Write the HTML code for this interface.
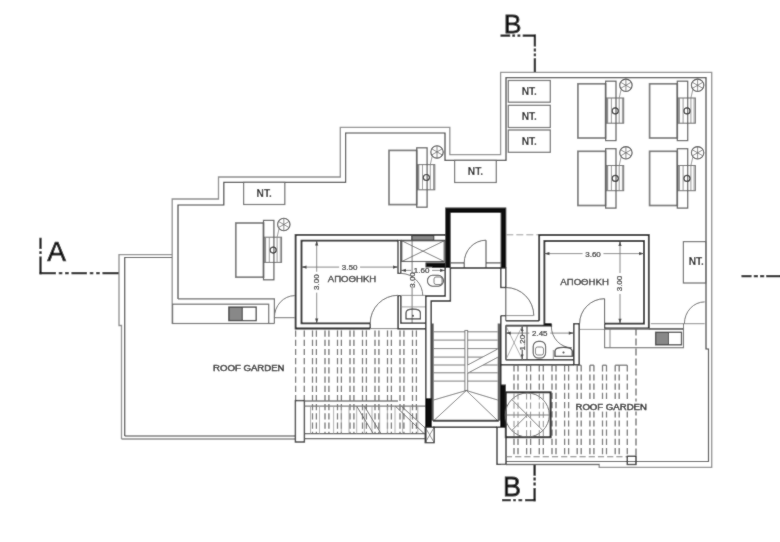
<!DOCTYPE html>
<html><head><meta charset="utf-8"><style>
html,body{margin:0;padding:0;background:#fff;}
svg{display:block;font-family:"Liberation Sans",sans-serif;}
</style></head><body>
<svg width="780" height="542" viewBox="0 0 780 542">
<defs><filter id="bl" x="0" y="0" width="100%" height="100%"><feConvolveMatrix order="3" kernelMatrix="1 2 1 2 20 2 1 2 1" divisor="32" edgeMode="duplicate"/></filter></defs>
<rect width="780" height="542" fill="#fff"/>
<g filter="url(#bl)">
<rect width="780" height="542" fill="#fff"/>
<path d="M40.5,237.7 V249 M40.5,251.2 V254 M40.5,256.5 V274.2" stroke="#111" stroke-width="2.3" fill="none"/>
<path d="M39.5,273.2 H56 M58.8,273.2 H62.3 M65.1,273.2 H68.7 M71.5,273.2 H87 M89.8,273.2 H93.3 M96.2,273.2 H99.7 M102.5,273.2 H119" stroke="#111" stroke-width="2.3" fill="none"/>
<text x="56.6" y="261" font-size="28" text-anchor="middle" fill="#111" stroke="#111" stroke-width="0.7">A</text>
<path d="M741.5,276.2 H751.5 M753.8,276.2 H758 M760,276.2 H764.2 M766.2,276.2 H781" stroke="#111" stroke-width="2.3" fill="none"/>
<text x="512.5" y="33.4" font-size="26.6" text-anchor="middle" fill="#111" stroke="#111" stroke-width="0.8">B</text>
<path d="M500.5,35.7 H510.2 M512.3,35.7 H515.1 M517.5,35.7 H520.3 M522.7,35.7 H535.9" stroke="#111" stroke-width="2.3" fill="none"/>
<path d="M534.9,34.7 V46.5 M534.9,48.6 V51.4 M534.9,53.5 V56.2 M534.9,58.3 V72.9" stroke="#111" stroke-width="2.3" fill="none"/>
<text x="512" y="496.1" font-size="27" text-anchor="middle" fill="#111" stroke="#111" stroke-width="0.8">B</text>
<path d="M534.6,464.2 V475.8 M534.6,477.6 V480.4 M534.6,482.6 V485.4 M534.6,488 V501.2" stroke="#111" stroke-width="2.3" fill="none"/>
<path d="M502,500.2 H510.8 M513.2,500.2 H515.9 M518.5,500.2 H522.2 M525,500.2 H535.6" stroke="#111" stroke-width="2.3" fill="none"/>
<polyline points="121.5,439 121.5,325.5 119,325.5 119,254.6 172.2,254.6" fill="none" stroke="#8a8a8a" stroke-width="1.3" />
<polyline points="124.7,436 124.7,257.5 172.2,257.5" fill="none" stroke="#3a3a3a" stroke-width="1.2" />
<line x1="121.5" y1="439" x2="295.8" y2="439" stroke="#8a8a8a" stroke-width="1.3" />
<line x1="124.7" y1="436" x2="295.8" y2="436" stroke="#3a3a3a" stroke-width="1.2" />
<polyline points="172.2,324 172.2,199 218.5,199 218.5,177 340.3,177 340.3,127.3 449.8,127.3 449.8,154.6 500.6,154.6 500.6,72.4 711.7,72.4 711.7,467.4 599.2,467.4 599.2,464.5 506,464.5" fill="none" stroke="#8a8a8a" stroke-width="1.3" />
<polyline points="178,299 178,205 223.8,205 223.8,182.4 345.6,182.4 345.6,133 445,133 445,160.4 506,160.4 506,77.7 706,77.7 706,349 708.5,349 708.5,461.5 506,461.5" fill="none" stroke="#3a3a3a" stroke-width="1.2" />
<polyline points="178,298.8 274.4,298.8 274.4,323.5" fill="none" stroke="#666" stroke-width="1.2" />
<rect x="172.6" y="304.2" width="96.1" height="19.3" fill="none" stroke="#666" stroke-width="1.2" />
<line x1="268.7" y1="323.5" x2="274.4" y2="323.5" stroke="#666" stroke-width="1.2" />
<rect x="228.8" y="307.1" width="13.5" height="13.5" fill="#888"/>
<rect x="228.8" y="307.1" width="27.4" height="13.5" fill="none" stroke="#3a3a3a" stroke-width="1.3" />
<line x1="242.3" y1="307.1" x2="242.3" y2="320.6" stroke="#3a3a3a" stroke-width="1" />
<line x1="274.4" y1="317.7" x2="294.6" y2="317.7" stroke="#666" stroke-width="1" />
<path d="M274.4,317.7 A20.5,22 0 0 1 294.6,295.6" fill="none" stroke="#666" stroke-width="1"/>
<rect x="508.3" y="80.5" width="42.0" height="21.7" fill="none" stroke="#666" stroke-width="1.2" />
<text x="529.3" y="95.14999999999999" font-size="10.2" text-anchor="middle" fill="#111" font-weight="bold">NT.</text>
<rect x="508.3" y="105.3" width="42.0" height="22.2" fill="none" stroke="#666" stroke-width="1.2" />
<text x="529.3" y="120.2" font-size="10.2" text-anchor="middle" fill="#111" font-weight="bold">NT.</text>
<rect x="508.3" y="130" width="42.0" height="22.3" fill="none" stroke="#666" stroke-width="1.2" />
<text x="529.3" y="144.95000000000002" font-size="10.2" text-anchor="middle" fill="#111" font-weight="bold">NT.</text>
<rect x="454.6" y="160.4" width="41.7" height="22.1" fill="none" stroke="#666" stroke-width="1.2" />
<text x="475.45000000000005" y="175.25" font-size="10.2" text-anchor="middle" fill="#111" font-weight="bold">NT.</text>
<rect x="243.6" y="182.4" width="41.2" height="22.1" fill="none" stroke="#666" stroke-width="1.2" />
<text x="264.2" y="197.25" font-size="10.2" text-anchor="middle" fill="#111" font-weight="bold">NT.</text>
<rect x="683.4" y="241.6" width="22.5" height="41.4" fill="none" stroke="#666" stroke-width="1.2" />
<text x="696.3" y="265" font-size="10.2" text-anchor="middle" fill="#111" font-weight="bold">NT.</text>
<rect x="577.9" y="83.8" width="27.7" height="54.2" fill="none" stroke="#777" stroke-width="1.7" />
<rect x="606.3000000000001" y="98.0" width="17.4" height="25.2" fill="#fff" stroke="#666" stroke-width="1" />
<line x1="607.4" y1="98.0" x2="607.4" y2="123.2" stroke="#888" stroke-width="1.6" />
<line x1="611.4" y1="98.0" x2="611.4" y2="123.2" stroke="#777" stroke-width="0.8" />
<line x1="619.2" y1="98.0" x2="619.2" y2="123.2" stroke="#777" stroke-width="0.8" />
<line x1="622.4" y1="98.0" x2="622.4" y2="123.2" stroke="#777" stroke-width="0.8" />
<rect x="605.6" y="81.2" width="10.4" height="59.4" fill="none" stroke="#555" stroke-width="1.2" />
<circle cx="615.3000000000001" cy="110.9" r="3" fill="none" stroke="#222" stroke-width="1.1"/>
<circle cx="625.9" cy="85.3" r="6.2" fill="#fff" stroke="#444" stroke-width="1.1"/>
<line x1="631.1" y1="88.3" x2="620.7" y2="82.3" stroke="#666" stroke-width="0.8" />
<line x1="625.9" y1="91.3" x2="625.9" y2="79.3" stroke="#666" stroke-width="0.8" />
<line x1="620.7" y1="88.3" x2="631.1" y2="82.3" stroke="#666" stroke-width="0.8" />
<line x1="621.1" y1="89.6" x2="619.2" y2="98.0" stroke="#777" stroke-width="0.8" />
<rect x="649.5999999999999" y="83.8" width="27.7" height="54.2" fill="none" stroke="#777" stroke-width="1.7" />
<rect x="678.0" y="98.0" width="17.4" height="25.2" fill="#fff" stroke="#666" stroke-width="1" />
<line x1="679.0999999999999" y1="98.0" x2="679.0999999999999" y2="123.2" stroke="#888" stroke-width="1.6" />
<line x1="683.0999999999999" y1="98.0" x2="683.0999999999999" y2="123.2" stroke="#777" stroke-width="0.8" />
<line x1="690.9" y1="98.0" x2="690.9" y2="123.2" stroke="#777" stroke-width="0.8" />
<line x1="694.0999999999999" y1="98.0" x2="694.0999999999999" y2="123.2" stroke="#777" stroke-width="0.8" />
<rect x="677.3" y="81.2" width="10.4" height="59.4" fill="none" stroke="#555" stroke-width="1.2" />
<circle cx="687.0" cy="110.9" r="3" fill="none" stroke="#222" stroke-width="1.1"/>
<circle cx="697.5999999999999" cy="85.3" r="6.2" fill="#fff" stroke="#444" stroke-width="1.1"/>
<line x1="702.8" y1="88.3" x2="692.4" y2="82.3" stroke="#666" stroke-width="0.8" />
<line x1="697.6" y1="91.3" x2="697.6" y2="79.3" stroke="#666" stroke-width="0.8" />
<line x1="692.4" y1="88.3" x2="702.8" y2="82.3" stroke="#666" stroke-width="0.8" />
<line x1="692.8" y1="89.6" x2="690.9" y2="98.0" stroke="#777" stroke-width="0.8" />
<rect x="577.9" y="151.29999999999998" width="27.7" height="54.2" fill="none" stroke="#777" stroke-width="1.7" />
<rect x="606.3000000000001" y="165.5" width="17.4" height="25.2" fill="#fff" stroke="#666" stroke-width="1" />
<line x1="607.4" y1="165.5" x2="607.4" y2="190.7" stroke="#888" stroke-width="1.6" />
<line x1="611.4" y1="165.5" x2="611.4" y2="190.7" stroke="#777" stroke-width="0.8" />
<line x1="619.2" y1="165.5" x2="619.2" y2="190.7" stroke="#777" stroke-width="0.8" />
<line x1="622.4" y1="165.5" x2="622.4" y2="190.7" stroke="#777" stroke-width="0.8" />
<rect x="605.6" y="148.7" width="10.4" height="59.4" fill="none" stroke="#555" stroke-width="1.2" />
<circle cx="615.3000000000001" cy="178.39999999999998" r="3" fill="none" stroke="#222" stroke-width="1.1"/>
<circle cx="625.9" cy="152.79999999999998" r="6.2" fill="#fff" stroke="#444" stroke-width="1.1"/>
<line x1="631.1" y1="155.8" x2="620.7" y2="149.8" stroke="#666" stroke-width="0.8" />
<line x1="625.9" y1="158.8" x2="625.9" y2="146.8" stroke="#666" stroke-width="0.8" />
<line x1="620.7" y1="155.8" x2="631.1" y2="149.8" stroke="#666" stroke-width="0.8" />
<line x1="621.1" y1="157.1" x2="619.2" y2="165.5" stroke="#777" stroke-width="0.8" />
<rect x="649.5999999999999" y="151.29999999999998" width="27.7" height="54.2" fill="none" stroke="#777" stroke-width="1.7" />
<rect x="678.0" y="165.5" width="17.4" height="25.2" fill="#fff" stroke="#666" stroke-width="1" />
<line x1="679.0999999999999" y1="165.5" x2="679.0999999999999" y2="190.7" stroke="#888" stroke-width="1.6" />
<line x1="683.0999999999999" y1="165.5" x2="683.0999999999999" y2="190.7" stroke="#777" stroke-width="0.8" />
<line x1="690.9" y1="165.5" x2="690.9" y2="190.7" stroke="#777" stroke-width="0.8" />
<line x1="694.0999999999999" y1="165.5" x2="694.0999999999999" y2="190.7" stroke="#777" stroke-width="0.8" />
<rect x="677.3" y="148.7" width="10.4" height="59.4" fill="none" stroke="#555" stroke-width="1.2" />
<circle cx="687.0" cy="178.39999999999998" r="3" fill="none" stroke="#222" stroke-width="1.1"/>
<circle cx="697.5999999999999" cy="152.79999999999998" r="6.2" fill="#fff" stroke="#444" stroke-width="1.1"/>
<line x1="702.8" y1="155.8" x2="692.4" y2="149.8" stroke="#666" stroke-width="0.8" />
<line x1="697.6" y1="158.8" x2="697.6" y2="146.8" stroke="#666" stroke-width="0.8" />
<line x1="692.4" y1="155.8" x2="702.8" y2="149.8" stroke="#666" stroke-width="0.8" />
<line x1="692.8" y1="157.1" x2="690.9" y2="165.5" stroke="#777" stroke-width="0.8" />
<rect x="389.0" y="150.4" width="27.7" height="54.2" fill="none" stroke="#777" stroke-width="1.7" />
<rect x="417.4" y="164.60000000000002" width="17.4" height="25.2" fill="#fff" stroke="#666" stroke-width="1" />
<line x1="418.5" y1="164.60000000000002" x2="418.5" y2="189.8" stroke="#888" stroke-width="1.6" />
<line x1="422.5" y1="164.60000000000002" x2="422.5" y2="189.8" stroke="#777" stroke-width="0.8" />
<line x1="430.3" y1="164.60000000000002" x2="430.3" y2="189.8" stroke="#777" stroke-width="0.8" />
<line x1="433.5" y1="164.60000000000002" x2="433.5" y2="189.8" stroke="#777" stroke-width="0.8" />
<rect x="416.7" y="147.8" width="10.4" height="59.4" fill="none" stroke="#555" stroke-width="1.2" />
<circle cx="426.4" cy="177.5" r="3" fill="none" stroke="#222" stroke-width="1.1"/>
<circle cx="437.0" cy="151.9" r="6.2" fill="#fff" stroke="#444" stroke-width="1.1"/>
<line x1="442.2" y1="154.9" x2="431.8" y2="148.9" stroke="#666" stroke-width="0.8" />
<line x1="437.0" y1="157.9" x2="437.0" y2="145.9" stroke="#666" stroke-width="0.8" />
<line x1="431.8" y1="154.9" x2="442.2" y2="148.9" stroke="#666" stroke-width="0.8" />
<line x1="432.2" y1="156.20000000000002" x2="430.3" y2="164.60000000000002" stroke="#777" stroke-width="0.8" />
<rect x="235.8" y="223.0" width="27.7" height="54.2" fill="none" stroke="#777" stroke-width="1.7" />
<rect x="264.2" y="237.20000000000002" width="17.4" height="25.2" fill="#fff" stroke="#666" stroke-width="1" />
<line x1="265.3" y1="237.20000000000002" x2="265.3" y2="262.4" stroke="#888" stroke-width="1.6" />
<line x1="269.3" y1="237.20000000000002" x2="269.3" y2="262.4" stroke="#777" stroke-width="0.8" />
<line x1="277.1" y1="237.20000000000002" x2="277.1" y2="262.4" stroke="#777" stroke-width="0.8" />
<line x1="280.3" y1="237.20000000000002" x2="280.3" y2="262.4" stroke="#777" stroke-width="0.8" />
<rect x="263.5" y="220.4" width="10.4" height="59.4" fill="none" stroke="#555" stroke-width="1.2" />
<circle cx="273.2" cy="250.1" r="3" fill="none" stroke="#222" stroke-width="1.1"/>
<circle cx="283.8" cy="224.5" r="6.2" fill="#fff" stroke="#444" stroke-width="1.1"/>
<line x1="289.0" y1="227.5" x2="278.6" y2="221.5" stroke="#666" stroke-width="0.8" />
<line x1="283.8" y1="230.5" x2="283.8" y2="218.5" stroke="#666" stroke-width="0.8" />
<line x1="278.6" y1="227.5" x2="289.0" y2="221.5" stroke="#666" stroke-width="0.8" />
<line x1="279.0" y1="228.8" x2="277.1" y2="237.20000000000002" stroke="#777" stroke-width="0.8" />
<polyline points="370.2,328.5 295.6,328.5 295.6,234.8 445.2,234.8" fill="none" stroke="#151515" stroke-width="1.8" />
<polyline points="370.2,323.4 301.5,323.4 301.5,240.6 398,240.6" fill="none" stroke="#151515" stroke-width="1.8" />
<line x1="370.2" y1="323.4" x2="370.2" y2="328.5" stroke="#151515" stroke-width="1.2" />
<line x1="370.2" y1="328.6" x2="398.1" y2="328.6" stroke="#777" stroke-width="1" />
<rect x="398" y="240.4" width="2.8" height="33.0" fill="none" stroke="#151515" stroke-width="1.2" />
<line x1="400.8" y1="240.4" x2="445.2" y2="240.4" stroke="#3a3a3a" stroke-width="1.2" />
<path d="M370.2,323.4 A27.8,28.1 0 0 1 398,295.3" fill="none" stroke="#555" stroke-width="1"/>
<line x1="301.5" y1="267.1" x2="398" y2="267.1" stroke="#777" stroke-width="0.9" />
<path d="M301.5,267.1 l5,-1.6 v3.2 z M398,267.1 l-5,-1.6 v3.2 z" fill="#333"/>
<rect x="339.14000000000004" y="264.1" width="20.92" height="6.0" fill="#fff"/>
<text x="349.6" y="270.1" font-size="8" text-anchor="middle" fill="#222" stroke="#222" stroke-width="0.2">3.50</text>
<line x1="316.7" y1="240.6" x2="316.7" y2="323.4" stroke="#777" stroke-width="0.9" />
<path d="M316.7,240.6 l-1.6,5 h3.2 z M316.7,323.4 l-1.6,-5 h3.2 z" fill="#333"/>
<rect x="313.7" y="271.74" width="6.0" height="20.92" fill="#fff"/>
<text x="316.7" y="282.2" font-size="8" text-anchor="middle" fill="#222" stroke="#222" stroke-width="0.2" transform="rotate(-90 316.7 282.2) translate(0,2.08)">3.00</text>
<text x="352" y="281.8" font-size="9.6" text-anchor="middle" fill="#222" stroke="#222" stroke-width="0.3">ΑΠΟΘΗΚΗ</text>
<rect x="411.7" y="235.6" width="22.1" height="4.6" fill="#888"/>
<rect x="411.7" y="235.6" width="22.1" height="4.6" fill="none" stroke="#333" stroke-width="1" />
<rect x="401.8" y="240.8" width="42.4" height="20.7" fill="none" stroke="#444" stroke-width="1.1" />
<line x1="401.8" y1="240.8" x2="444.2" y2="261.5" stroke="#555" stroke-width="0.8" />
<line x1="401.8" y1="261.5" x2="444.2" y2="240.8" stroke="#555" stroke-width="0.8" />
<rect x="425.5" y="262.5" width="19.7" height="5.5" fill="#111"/>
<line x1="401" y1="270.4" x2="445" y2="270.4" stroke="#777" stroke-width="0.9" />
<path d="M401,270.4 l5,-1.6 v3.2 z M445,270.4 l-5,-1.6 v3.2 z" fill="#333"/>
<rect x="411.14000000000004" y="267.4" width="20.92" height="6.0" fill="#fff"/>
<text x="421.6" y="273.4" font-size="8" text-anchor="middle" fill="#222" stroke="#222" stroke-width="0.2">1.60</text>
<line x1="412.1" y1="235" x2="412.1" y2="323" stroke="#555" stroke-width="0.8" />
<g transform="translate(412.1,280) rotate(-90)"><rect x="-7" y="-3" width="14" height="6" fill="#fff"/><text x="0" y="3" font-size="8" text-anchor="middle" fill="#222" stroke="#222" stroke-width="0.2">3.00</text></g>
<rect x="427.5" y="275.3" width="15.8" height="10.9" rx="5" fill="none" stroke="#444" stroke-width="1.1"/>
<rect x="434" y="277" width="8" height="7.5" rx="2" fill="none" stroke="#555" stroke-width="0.8"/>
<path d="M400.8,273.4 A22,22.6 0 0 1 422.8,296" fill="none" stroke="#666" stroke-width="1"/>
<polyline points="398.1,296 398.1,328.8 425.8,328.8" fill="none" stroke="#151515" stroke-width="1.4" />
<polyline points="400.8,296 400.8,323.1 425.8,323.1" fill="none" stroke="#151515" stroke-width="1.4" />
<line x1="398.1" y1="295.6" x2="400.8" y2="295.6" stroke="#151515" stroke-width="1.2" />
<line x1="400.8" y1="295.4" x2="425.8" y2="295.4" stroke="#888" stroke-width="0.9" />
<line x1="400.8" y1="306.9" x2="425.8" y2="306.9" stroke="#888" stroke-width="0.8" />
<path d="M406,318.8 V313 Q406,309.2 413,309.2 Q420.4,309.2 420.4,313 V318.8 Z" fill="none" stroke="#333" stroke-width="1.2"/>
<circle cx="413" cy="315.8" r="1" fill="#222"/>
<polyline points="445.2,267.4 445.2,296 425.8,296 425.8,442" fill="none" stroke="#151515" stroke-width="1.4" />
<polyline points="450.4,268 450.4,301 431.2,301 431.2,427" fill="none" stroke="#151515" stroke-width="1.4" />
<path d="M445.2,207.6 H506.3 V268 H500.6 V213.1 H450.7 V268 H445.2 Z" fill="#111"/>
<polyline points="450.7,262.9 464.2,262.9" fill="none" stroke="#3a3a3a" stroke-width="1.1" />
<line x1="450.7" y1="268" x2="500.6" y2="268" stroke="#151515" stroke-width="1.3" />
<line x1="464.2" y1="262.9" x2="464.2" y2="268" stroke="#3a3a3a" stroke-width="1" />
<polyline points="486,262.9 500.6,262.9" fill="none" stroke="#3a3a3a" stroke-width="1.1" />
<line x1="486" y1="240.2" x2="486" y2="268" stroke="#3a3a3a" stroke-width="1" />
<path d="M464.2,262.9 A21.8,22.7 0 0 1 486,240.2" fill="none" stroke="#555" stroke-width="1"/>
<line x1="506.3" y1="234.8" x2="539.4" y2="234.8" stroke="#999" stroke-width="1" stroke-dasharray="7,3"/>
<rect x="500.8" y="268" width="5.0" height="19.5" fill="none" stroke="#151515" stroke-width="1.3" />
<line x1="505.8" y1="287.5" x2="505.8" y2="320.7" stroke="#3a3a3a" stroke-width="1" />
<path d="M505.8,287.5 A28,28.2 0 0 1 533.8,315.7" fill="none" stroke="#555" stroke-width="1"/>
<polyline points="505.8,320.7 539.2,320.7" fill="none" stroke="#151515" stroke-width="1.4" />
<polyline points="500.8,315.7 505.8,315.7" fill="none" stroke="#151515" stroke-width="1.2" />
<line x1="505.8" y1="315.6" x2="533.5" y2="315.6" stroke="#777" stroke-width="0.9" />
<line x1="500.8" y1="315.7" x2="500.8" y2="427.2" stroke="#151515" stroke-width="1.4" />
<polyline points="539.2,320.7 539.2,235 648.8,235 648.8,328.5 604.6,328.5" fill="none" stroke="#151515" stroke-width="1.8" />
<polyline points="551.5,324 544.4,324 544.4,241 644,241 644,323.7 604.6,323.7" fill="none" stroke="#151515" stroke-width="1.8" />
<line x1="551.5" y1="324" x2="551.5" y2="327" stroke="#151515" stroke-width="1.2" />
<line x1="604.6" y1="323.7" x2="604.6" y2="328.5" stroke="#151515" stroke-width="1.2" />
<line x1="604.6" y1="298.7" x2="604.6" y2="323.7" stroke="#3a3a3a" stroke-width="1" />
<path d="M604.6,298.7 A25,25 0 0 0 579.6,323.7" fill="none" stroke="#555" stroke-width="1"/>
<line x1="544.4" y1="253.6" x2="644" y2="253.6" stroke="#777" stroke-width="0.9" />
<path d="M544.4,253.6 l5,-1.6 v3.2 z M644,253.6 l-5,-1.6 v3.2 z" fill="#333"/>
<rect x="582.54" y="250.6" width="20.92" height="6.0" fill="#fff"/>
<text x="593" y="256.6" font-size="8" text-anchor="middle" fill="#222" stroke="#222" stroke-width="0.2">3.60</text>
<line x1="620" y1="241" x2="620" y2="323.7" stroke="#777" stroke-width="0.9" />
<path d="M620,241 l-1.6,5 h3.2 z M620,323.7 l-1.6,-5 h3.2 z" fill="#333"/>
<rect x="617" y="273.04" width="6" height="20.92" fill="#fff"/>
<text x="620" y="283.5" font-size="8" text-anchor="middle" fill="#222" stroke="#222" stroke-width="0.2" transform="rotate(-90 620 283.5) translate(0,2.08)">3.00</text>
<text x="584.6" y="285.3" font-size="9.6" text-anchor="middle" fill="#222" stroke="#222" stroke-width="0.3">ΑΠΟΘΗΚΗ</text>
<polyline points="505.8,325.7 551.5,325.7" fill="none" stroke="#151515" stroke-width="1.8" />
<rect x="573.8" y="323.7" width="5.4" height="41.0" fill="none" stroke="#151515" stroke-width="1.4" />
<line x1="579.6" y1="329.4" x2="604.6" y2="329.4" stroke="#777" stroke-width="0.8" />
<path d="M551.3,326.2 A20.5,21.5 0 0 0 571.8,347.7" fill="none" stroke="#555" stroke-width="0.9"/>
<line x1="505.8" y1="325.7" x2="505.8" y2="359.7" stroke="#151515" stroke-width="1.4" />
<line x1="505.8" y1="359.7" x2="573.8" y2="359.7" stroke="#151515" stroke-width="1.4" />
<line x1="500.8" y1="364.7" x2="573.8" y2="364.7" stroke="#151515" stroke-width="1.4" />
<rect x="505.8" y="325.7" width="16.6" height="34.0" fill="none" stroke="#555" stroke-width="1" />
<line x1="527" y1="325.7" x2="527" y2="359.7" stroke="#555" stroke-width="1.2" />
<line x1="522.2" y1="326.5" x2="522.2" y2="359" stroke="#444" stroke-width="0.8" />
<path d="M522.2,326.5 l-1.4,4.5 h2.8 z M522.2,359 l-1.4,-4.5 h2.8 z" fill="#333"/>
<g transform="translate(522.4,342.6) rotate(-90)"><rect x="-7" y="-3" width="14" height="6" fill="#fff"/><text x="0" y="2.9" font-size="8" text-anchor="middle" fill="#222" stroke="#222" stroke-width="0.2">1.20</text></g>
<line x1="553.3" y1="350" x2="553.3" y2="359.7" stroke="#777" stroke-width="0.8" />
<line x1="505.8" y1="325.7" x2="522.4" y2="359.7" stroke="#888" stroke-width="0.7" />
<line x1="505.8" y1="359.7" x2="522.4" y2="325.7" stroke="#888" stroke-width="0.7" />
<line x1="505.8" y1="333.1" x2="573.8" y2="333.1" stroke="#777" stroke-width="0.9" />
<path d="M505.8,333.1 l5,-1.6 v3.2 z M573.8,333.1 l-5,-1.6 v3.2 z" fill="#333"/>
<rect x="529.3399999999999" y="330.1" width="20.92" height="6.0" fill="#fff"/>
<text x="539.8" y="336.1" font-size="8" text-anchor="middle" fill="#222" stroke="#222" stroke-width="0.2">2.45</text>
<rect x="533.2" y="341.4" width="12.4" height="16.6" rx="5" fill="none" stroke="#444" stroke-width="1.1"/>
<rect x="535.5" y="347" width="8" height="8" rx="2" fill="none" stroke="#555" stroke-width="0.8"/>
<path d="M555,356.4 V351 Q555,347.3 563.5,347.3 Q572.2,347.3 572.2,351 V356.4 Z" fill="none" stroke="#333" stroke-width="1.2"/>
<circle cx="563.5" cy="352.5" r="1" fill="#222"/>
<line x1="650.8" y1="323.7" x2="704.6" y2="323.7" stroke="#777" stroke-width="0.9" />
<line x1="648.8" y1="329.4" x2="683.5" y2="329.4" stroke="#666" stroke-width="1" />
<rect x="604.6" y="328.5" width="78.9" height="19.2" fill="none" stroke="#666" stroke-width="1.1" />
<line x1="610" y1="328.5" x2="610" y2="347.7" stroke="#777" stroke-width="0.9" />
<rect x="655.6" y="332.3" width="12.9" height="12.5" fill="#888"/>
<rect x="655.6" y="332.3" width="25.9" height="12.5" fill="none" stroke="#3a3a3a" stroke-width="1.3" />
<line x1="668.5" y1="332.3" x2="668.5" y2="344.8" stroke="#3a3a3a" stroke-width="1" />
<path d="M684.4,323.7 A20.2,21.8 0 0 1 704.6,301.9" fill="none" stroke="#666" stroke-width="1"/>
<line x1="683.5" y1="323.7" x2="683.5" y2="347.7" stroke="#666" stroke-width="1" />
<line x1="432.6" y1="323.5" x2="432.6" y2="420.7" stroke="#555" stroke-width="2.2" />
<line x1="498.8" y1="323.5" x2="498.8" y2="420.7" stroke="#555" stroke-width="2.2" />
<line x1="433.7" y1="331.8" x2="497.7" y2="331.8" stroke="#777" stroke-width="1" />
<line x1="433.7" y1="340.1" x2="497.7" y2="340.1" stroke="#777" stroke-width="1" />
<line x1="433.7" y1="348.6" x2="497.7" y2="348.6" stroke="#777" stroke-width="1" />
<line x1="433.7" y1="357.1" x2="497.7" y2="357.1" stroke="#777" stroke-width="1" />
<line x1="433.7" y1="365" x2="497.7" y2="365" stroke="#777" stroke-width="1" />
<line x1="433.7" y1="372.8" x2="497.7" y2="372.8" stroke="#777" stroke-width="1" />
<line x1="433.7" y1="381.1" x2="497.7" y2="381.1" stroke="#777" stroke-width="1" />
<rect x="464.9" y="330.4" width="2.8" height="60.1" fill="#fff"/>
<rect x="464.9" y="330.4" width="2.8" height="60.1" fill="none" stroke="#666" stroke-width="0.9" />
<path d="M467.7,365 L497.7,349 V357.3 L467.7,373.2 Z" fill="#fff" stroke="none"/>
<line x1="467.7" y1="365" x2="497.7" y2="349" stroke="#666" stroke-width="0.9" />
<line x1="467.7" y1="373.2" x2="497.7" y2="357.3" stroke="#666" stroke-width="0.9" />
<line x1="466.3" y1="390.5" x2="433.7" y2="400" stroke="#666" stroke-width="0.9" />
<line x1="466.3" y1="390.5" x2="433.7" y2="420.7" stroke="#666" stroke-width="0.9" />
<line x1="466.3" y1="390.5" x2="497.7" y2="400" stroke="#666" stroke-width="0.9" />
<line x1="466.3" y1="390.5" x2="497.7" y2="420.7" stroke="#666" stroke-width="0.9" />
<line x1="432.9" y1="420.7" x2="498.8" y2="420.7" stroke="#333" stroke-width="2" />
<line x1="432.9" y1="427.2" x2="497" y2="427.2" stroke="#151515" stroke-width="1.4" />
<rect x="497" y="427.2" width="9" height="37.2" fill="#fff" stroke="#151515" stroke-width="1.3" />
<rect x="425.2" y="398.1" width="6.4" height="29.1" fill="#111"/>
<rect x="500.7" y="384.5" width="5.2" height="42.7" fill="#111"/>
<rect x="425.2" y="427.2" width="9.0" height="15.5" fill="none" stroke="#151515" stroke-width="1.2" />
<line x1="425.2" y1="427.2" x2="434.2" y2="442.7" stroke="#555" stroke-width="0.7" />
<line x1="434.2" y1="427.2" x2="425.2" y2="442.7" stroke="#555" stroke-width="0.7" />
<line x1="295.6" y1="329.5" x2="295.6" y2="400.6" stroke="#666" stroke-width="1.25" stroke-dasharray="6.2,3" stroke-dashoffset="-1"/>
<line x1="304.3" y1="329.5" x2="304.3" y2="400.6" stroke="#666" stroke-width="1.25" stroke-dasharray="6.2,3" stroke-dashoffset="-1"/>
<line x1="312.5" y1="329.5" x2="312.5" y2="433.7" stroke="#666" stroke-width="1.25" stroke-dasharray="6.2,3" stroke-dashoffset="-1"/>
<line x1="316.4" y1="329.5" x2="316.4" y2="433.7" stroke="#666" stroke-width="1.25" stroke-dasharray="6.2,3" stroke-dashoffset="-1"/>
<line x1="325.0" y1="329.5" x2="325.0" y2="433.7" stroke="#666" stroke-width="1.25" stroke-dasharray="6.2,3" stroke-dashoffset="-1"/>
<line x1="328.9" y1="329.5" x2="328.9" y2="433.7" stroke="#666" stroke-width="1.25" stroke-dasharray="6.2,3" stroke-dashoffset="-1"/>
<line x1="337.5" y1="329.5" x2="337.5" y2="433.7" stroke="#666" stroke-width="1.25" stroke-dasharray="6.2,3" stroke-dashoffset="-1"/>
<line x1="341.4" y1="329.5" x2="341.4" y2="433.7" stroke="#666" stroke-width="1.25" stroke-dasharray="6.2,3" stroke-dashoffset="-1"/>
<line x1="350.0" y1="329.5" x2="350.0" y2="433.7" stroke="#666" stroke-width="1.25" stroke-dasharray="6.2,3" stroke-dashoffset="-1"/>
<line x1="353.9" y1="329.5" x2="353.9" y2="433.7" stroke="#666" stroke-width="1.25" stroke-dasharray="6.2,3" stroke-dashoffset="-1"/>
<line x1="362.5" y1="329.5" x2="362.5" y2="433.7" stroke="#666" stroke-width="1.25" stroke-dasharray="6.2,3" stroke-dashoffset="-1"/>
<line x1="366.4" y1="329.5" x2="366.4" y2="433.7" stroke="#666" stroke-width="1.25" stroke-dasharray="6.2,3" stroke-dashoffset="-1"/>
<line x1="375.0" y1="329.5" x2="375.0" y2="433.7" stroke="#666" stroke-width="1.25" stroke-dasharray="6.2,3" stroke-dashoffset="-1"/>
<line x1="378.9" y1="329.5" x2="378.9" y2="433.7" stroke="#666" stroke-width="1.25" stroke-dasharray="6.2,3" stroke-dashoffset="-1"/>
<line x1="387.5" y1="329.5" x2="387.5" y2="433.7" stroke="#666" stroke-width="1.25" stroke-dasharray="6.2,3" stroke-dashoffset="-1"/>
<line x1="391.4" y1="329.5" x2="391.4" y2="433.7" stroke="#666" stroke-width="1.25" stroke-dasharray="6.2,3" stroke-dashoffset="-1"/>
<line x1="400.0" y1="329.5" x2="400.0" y2="433.7" stroke="#666" stroke-width="1.25" stroke-dasharray="6.2,3" stroke-dashoffset="-1"/>
<line x1="403.9" y1="329.5" x2="403.9" y2="433.7" stroke="#666" stroke-width="1.25" stroke-dasharray="6.2,3" stroke-dashoffset="-1"/>
<line x1="412.5" y1="329.5" x2="412.5" y2="433.7" stroke="#666" stroke-width="1.25" stroke-dasharray="6.2,3" stroke-dashoffset="-1"/>
<line x1="416.4" y1="329.5" x2="416.4" y2="433.7" stroke="#666" stroke-width="1.25" stroke-dasharray="6.2,3" stroke-dashoffset="-1"/>
<rect x="295.4" y="400.6" width="9.0" height="41.4" fill="#fff" stroke="#333" stroke-width="1.4" />
<line x1="304.4" y1="401" x2="398" y2="401" stroke="#777" stroke-width="1.3" />
<line x1="304.4" y1="406.2" x2="425.2" y2="406.2" stroke="#777" stroke-width="1.3" />
<line x1="304.4" y1="433.7" x2="425.2" y2="433.7" stroke="#555" stroke-width="1.2" />
<line x1="304.4" y1="438.6" x2="425.2" y2="438.6" stroke="#555" stroke-width="1.3" />
<line x1="310.5" y1="406.2" x2="310.5" y2="433.7" stroke="#999" stroke-width="0.8" />
<line x1="319.5" y1="406.2" x2="319.5" y2="433.7" stroke="#999" stroke-width="0.8" />
<line x1="333.6" y1="406.2" x2="333.6" y2="433.7" stroke="#999" stroke-width="0.8" />
<line x1="341.3" y1="406.2" x2="341.3" y2="433.7" stroke="#999" stroke-width="0.8" />
<line x1="349" y1="406.2" x2="349" y2="433.7" stroke="#999" stroke-width="0.8" />
<line x1="356.7" y1="406.2" x2="356.7" y2="433.7" stroke="#999" stroke-width="0.8" />
<line x1="364.4" y1="406.2" x2="364.4" y2="433.7" stroke="#999" stroke-width="0.8" />
<line x1="372" y1="406.2" x2="372" y2="433.7" stroke="#999" stroke-width="0.8" />
<line x1="379.7" y1="406.2" x2="379.7" y2="433.7" stroke="#999" stroke-width="0.8" />
<line x1="387.4" y1="406.2" x2="387.4" y2="433.7" stroke="#999" stroke-width="0.8" />
<line x1="395" y1="406.2" x2="395" y2="433.7" stroke="#999" stroke-width="0.8" />
<line x1="402.6" y1="406.2" x2="402.6" y2="433.7" stroke="#999" stroke-width="0.8" />
<line x1="410.2" y1="406.2" x2="410.2" y2="433.7" stroke="#999" stroke-width="0.8" />
<line x1="417.8" y1="406.2" x2="417.8" y2="433.7" stroke="#999" stroke-width="0.8" />
<line x1="356.7" y1="406.2" x2="373.3" y2="433.7" stroke="#555" stroke-width="0.9" />
<line x1="364.4" y1="406.2" x2="381" y2="433.7" stroke="#555" stroke-width="0.9" />
<line x1="395.4" y1="406.2" x2="424.2" y2="433.7" stroke="#555" stroke-width="0.9" />
<line x1="401.4" y1="406.2" x2="425.2" y2="428" stroke="#555" stroke-width="0.9" />
<line x1="514.0" y1="365.2" x2="514.0" y2="456.8" stroke="#666" stroke-width="1.25" stroke-dasharray="6.2,3"/>
<line x1="518.0" y1="365.2" x2="518.0" y2="456.8" stroke="#666" stroke-width="1.25" stroke-dasharray="6.2,3"/>
<line x1="514.0" y1="365.2" x2="518.0" y2="365.2" stroke="#666" stroke-width="1.2" />
<line x1="526.6" y1="365.2" x2="526.6" y2="456.8" stroke="#666" stroke-width="1.25" stroke-dasharray="6.2,3"/>
<line x1="530.6" y1="365.2" x2="530.6" y2="456.8" stroke="#666" stroke-width="1.25" stroke-dasharray="6.2,3"/>
<line x1="526.6" y1="365.2" x2="530.6" y2="365.2" stroke="#666" stroke-width="1.2" />
<line x1="539.3" y1="365.2" x2="539.3" y2="456.8" stroke="#666" stroke-width="1.25" stroke-dasharray="6.2,3"/>
<line x1="543.3" y1="365.2" x2="543.3" y2="456.8" stroke="#666" stroke-width="1.25" stroke-dasharray="6.2,3"/>
<line x1="539.3" y1="365.2" x2="543.3" y2="365.2" stroke="#666" stroke-width="1.2" />
<line x1="552.0" y1="365.2" x2="552.0" y2="456.8" stroke="#666" stroke-width="1.25" stroke-dasharray="6.2,3"/>
<line x1="556.0" y1="365.2" x2="556.0" y2="456.8" stroke="#666" stroke-width="1.25" stroke-dasharray="6.2,3"/>
<line x1="552.0" y1="365.2" x2="556.0" y2="365.2" stroke="#666" stroke-width="1.2" />
<line x1="564.6" y1="365.2" x2="564.6" y2="456.8" stroke="#666" stroke-width="1.25" stroke-dasharray="6.2,3"/>
<line x1="568.6" y1="365.2" x2="568.6" y2="456.8" stroke="#666" stroke-width="1.25" stroke-dasharray="6.2,3"/>
<line x1="564.6" y1="365.2" x2="568.6" y2="365.2" stroke="#666" stroke-width="1.2" />
<line x1="577.2" y1="365.2" x2="577.2" y2="456.8" stroke="#666" stroke-width="1.25" stroke-dasharray="6.2,3"/>
<line x1="581.2" y1="365.2" x2="581.2" y2="456.8" stroke="#666" stroke-width="1.25" stroke-dasharray="6.2,3"/>
<line x1="577.2" y1="365.2" x2="581.2" y2="365.2" stroke="#666" stroke-width="1.2" />
<line x1="589.9" y1="365.2" x2="589.9" y2="456.8" stroke="#666" stroke-width="1.25" stroke-dasharray="6.2,3"/>
<line x1="593.9" y1="365.2" x2="593.9" y2="456.8" stroke="#666" stroke-width="1.25" stroke-dasharray="6.2,3"/>
<line x1="589.9" y1="365.2" x2="593.9" y2="365.2" stroke="#666" stroke-width="1.2" />
<line x1="602.5" y1="365.2" x2="602.5" y2="456.8" stroke="#666" stroke-width="1.25" stroke-dasharray="6.2,3"/>
<line x1="606.5" y1="365.2" x2="606.5" y2="456.8" stroke="#666" stroke-width="1.25" stroke-dasharray="6.2,3"/>
<line x1="602.5" y1="365.2" x2="606.5" y2="365.2" stroke="#666" stroke-width="1.2" />
<line x1="615.2" y1="365.2" x2="615.2" y2="456.8" stroke="#666" stroke-width="1.25" stroke-dasharray="6.2,3"/>
<line x1="619.2" y1="365.2" x2="619.2" y2="456.8" stroke="#666" stroke-width="1.25" stroke-dasharray="6.2,3"/>
<line x1="615.2" y1="365.2" x2="619.2" y2="365.2" stroke="#666" stroke-width="1.2" />
<line x1="619.2" y1="365.2" x2="627.3" y2="365.2" stroke="#666" stroke-width="1.2" />
<line x1="627.3" y1="365.2" x2="627.3" y2="456.2" stroke="#666" stroke-width="1.25" stroke-dasharray="6.2,3"/>
<line x1="636" y1="328.5" x2="636" y2="456.2" stroke="#666" stroke-width="1.3" stroke-dasharray="7,3"/>
<line x1="505.9" y1="456.8" x2="627" y2="456.8" stroke="#777" stroke-width="1.1" stroke-dasharray="6.2,3"/>
<rect x="627.3" y="456.3" width="8.7" height="8.2" fill="none" stroke="#151515" stroke-width="1.3" />
<rect x="505.8" y="392.3" width="44.8" height="44.9" fill="#fff" stroke="#222" stroke-width="2" />
<circle cx="527.3" cy="415" r="22" fill="none" stroke="#666" stroke-width="1"/>
<line x1="527.3" y1="415" x2="549.3" y2="415.0" stroke="#666" stroke-width="0.9" />
<line x1="527.3" y1="415" x2="505.3" y2="415.0" stroke="#666" stroke-width="0.9" />
<line x1="527.3" y1="415" x2="511.74" y2="399.44" stroke="#666" stroke-width="0.9" />
<line x1="527.3" y1="415" x2="511.74" y2="430.56" stroke="#666" stroke-width="0.9" />
<line x1="527.3" y1="415" x2="542.86" y2="430.56" stroke="#666" stroke-width="0.9" />
<line x1="514.0" y1="393.3" x2="514.0" y2="436.2" stroke="#888" stroke-width="1" stroke-dasharray="6.2,3"/>
<line x1="518.0" y1="393.3" x2="518.0" y2="436.2" stroke="#888" stroke-width="1" stroke-dasharray="6.2,3"/>
<line x1="526.6" y1="393.3" x2="526.6" y2="436.2" stroke="#888" stroke-width="1" stroke-dasharray="6.2,3"/>
<line x1="530.6" y1="393.3" x2="530.6" y2="436.2" stroke="#888" stroke-width="1" stroke-dasharray="6.2,3"/>
<line x1="539.3" y1="393.3" x2="539.3" y2="436.2" stroke="#888" stroke-width="1" stroke-dasharray="6.2,3"/>
<line x1="543.3" y1="393.3" x2="543.3" y2="436.2" stroke="#888" stroke-width="1" stroke-dasharray="6.2,3"/>
<line x1="501" y1="464.5" x2="599.2" y2="464.5" stroke="#555" stroke-width="1.2" />
<rect x="212" y="362.5" width="74" height="10.0" fill="#fff"/>
<text x="248.8" y="371" font-size="9.6" text-anchor="middle" fill="#222" stroke="#222" stroke-width="0.45">ROOF GARDEN</text>
<rect x="574.5" y="401.5" width="73.5" height="10.0" fill="#fff"/>
<text x="611.2" y="410" font-size="9.6" text-anchor="middle" fill="#222" stroke="#222" stroke-width="0.45">ROOF GARDEN</text>
</g>
</svg></body></html>
